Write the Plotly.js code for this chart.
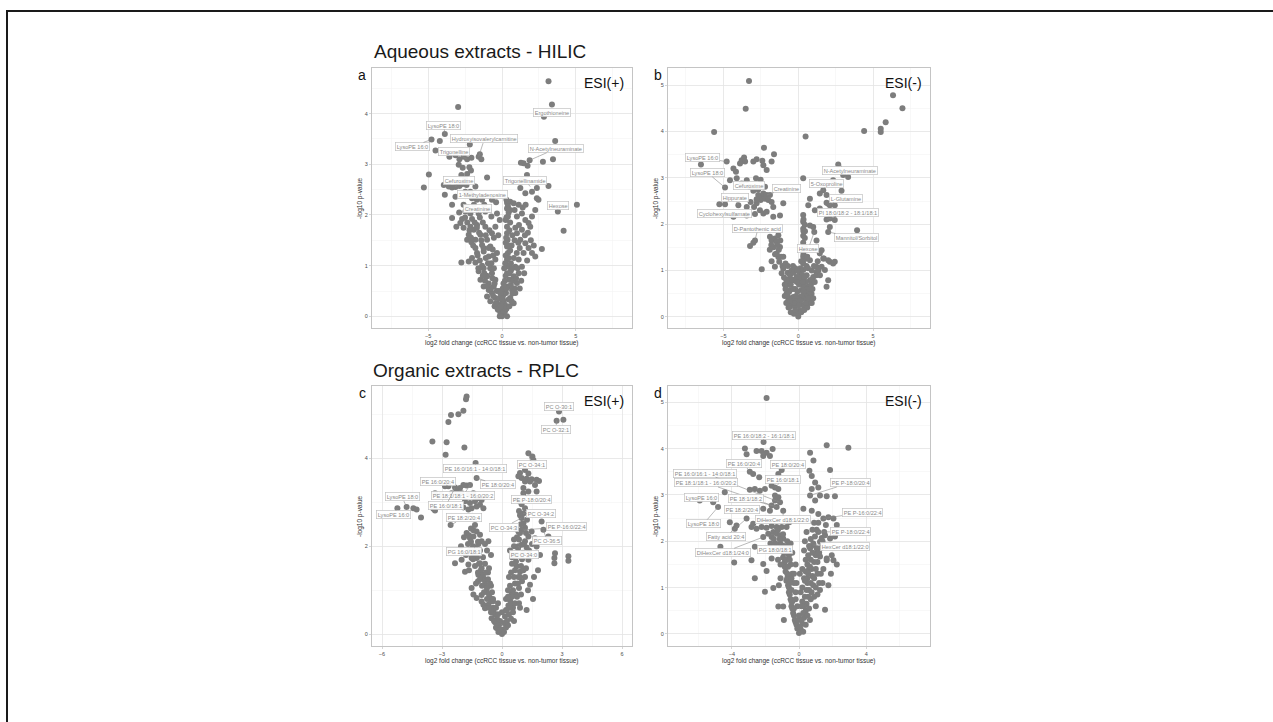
<!DOCTYPE html>
<html>
<head>
<meta charset="utf-8">
<script src="https://cdn.plot.ly/plotly-3.0.1.min.js"></script>
<style>
html,body{margin:0;padding:0;background:#fff;}
#chart{width:1273px;height:722px;}
</style>
</head>
<body>
<div id="chart"></div>
<script>
// ---------- DATA (log2 fold change, -log10 p-value) ----------
const pointsA = [
[3.15,4.64],[3.38,4.18],[2.84,3.94],[-2.97,4.13],[3.6,3.46],[3.45,3.1],[2.77,3.05],[-3.87,3.6],[-4.77,3.49],[-4.21,3.46],
[-4.5,3.27],[-2.18,3.39],[-4.95,2.8],[-5.29,2.54],[-3.87,2.4],[-3.38,2.2],[-3.38,1.94],[-3.09,1.77],[-1.01,2.74],[5.07,2.2],
[3.78,2.07],[4.17,1.69],[2.7,1.33],[3.15,2.57],[2.36,2.33],
[-3.56,3.15],[-3.15,3.18],[-2.88,3.1],[-2.59,3.15],[-2.36,3.1],[-2.07,3.13],[-1.58,3.15],[-1.4,3.1],[-1.5,3.2],[-2.93,2.99],
[-2.66,2.93],[-2.21,2.94],[-2.1,2.88],[-2.75,2.79],[-2.36,2.81],[-2.5,2.72],
[-3.94,2.59],[-3.6,2.56],[-3.38,2.54],[-3.15,2.55],[-2.88,2.57],[-2.66,2.61],[-2.4,2.59],[-2.48,2.46],[-1.8,2.56],[-2.14,2.46],
[-3.15,2.36],[-2.03,2.33],[-1.35,2.3],[-0.68,2.3],[0.34,2.24],[0.55,2.26],[0.4,2.17],
[-2.48,2.07],[-2.14,2.03],[-1.58,2.03],[-1.13,2.07],[-2.03,1.92],[-2.7,1.92],[-2.82,1.84],
[-2.14,1.77],[-1.91,1.71],[-1.69,1.8],[-2.25,1.61],[-2.36,1.51],[-2.07,1.46],[-1.8,1.51],[-1.46,1.61],[-1.35,1.41],[-1.24,1.28],
[-1.69,1.25],[-2.03,1.15],[-1.8,1.06],[-2.75,1.06],[-2.25,1.08],[-1.58,0.89],[-0.9,1.18],[-0.79,1.38],[-1.01,1.51],[-0.68,1.64],
[-0.45,1.77],[-1.13,1.77],[-0.72,1.97],[-0.34,2.03],[-1.24,0.95],[-1.01,0.79],[-0.68,0.85],[-1.46,0.72],[-1.24,0.59],[-0.9,0.52],
[-0.68,0.46],[-1.01,0.39],[-0.45,0.36],[-0.79,0.3],[-0.5,0.2],[-0.27,0.13],[-0.11,0.07],[-0.34,0.26],[-0.56,0.59],[-0.45,0.72],
[-0.72,1.05],[-0.45,1.12],[-0.34,1.25],[-0.63,1.32],[-1.5,1.95],[-1.9,2.2],
[0.34,2.13],[0.4,1.97],[0.34,1.77],[0.34,1.64],[0.38,1.51],[0.34,1.38],[0.4,1.25],[0.34,1.12],[0.45,0.98],[0.34,0.85],
[0.5,0.72],[0.4,0.59],[0.27,0.46],[0.45,0.33],[0.18,0.2],[0.11,0.07],[0.25,1.9],[0.25,1.45],[0.22,1.05],[0.2,0.7],
[0.55,1.85],[0.55,1.3],[0.6,0.9],[0.1,0.3],[0.15,0.5],
[0.79,2.23],[1.13,2.2],[1.35,2.03],[1.01,1.97],[1.58,1.9],[1.8,1.84],[2.03,1.97],[2.25,2.1],[1.91,1.77],[1.35,1.71],
[1.01,1.64],[1.24,1.51],[1.58,1.44],[1.8,1.35],[2.03,1.25],[2.25,1.18],[1.46,1.25],[1.13,1.12],[0.9,0.98],[1.35,0.98],
[1.13,0.85],[0.79,0.79],[1.01,0.66],[0.68,0.52],[0.9,0.46],[0.56,0.36],[0.79,0.26],[1.58,2.43],[1.24,2.53],[1.35,2.69],
[1.69,2.79],[1.73,2.97],[1.46,3.02],[1.87,3.08],[1.28,3.03],[2.03,2.46],[2.36,2.53],[2.47,2.3],
[0,0],[-0.05,0.07],[0.05,0.13],[-0.2,0.16],[0.2,0.23],[0,0.26],[-0.11,0.36],[0.11,0.43],[-0.2,0.5],[0.05,0.55],
[-0.3,0.15],[-0.45,0.25],[-0.6,0.4],[-0.75,0.55],[-0.9,0.65],[-1.05,0.8],[-1.2,0.85],[-1.35,1.0],[-1.5,1.1],[-1.65,1.2],
[-1.8,1.35],[-1.95,1.4],[-2.1,1.55],[-2.2,1.7],[-2.35,1.85],[-2.6,1.75],[-2.5,1.95],[-0.2,0.35],[-0.35,0.5],[-0.5,0.65],
[-0.65,0.75],[-0.8,0.95],[-0.95,1.05],[-1.1,1.15],[-1.25,1.35],[-1.4,1.5],[-1.55,1.65],[-1.7,1.75],[-1.85,1.85],[-1.0,0.6],
[-1.15,0.7],[-1.3,0.8],[-0.55,0.95],[-0.6,1.2],[-0.9,1.35],[-1.1,1.6],[-0.85,1.7],[-1.3,1.85],[-0.55,1.55],[-0.25,1.6],
[-0.15,1.9],[-0.9,2.1],[-1.2,2.2],[-2.6,2.2],[-2.3,2.15],[-1.7,2.3],[-0.4,2.25],[-2.9,2.05],[-1.6,0.95],[-0.05,0.2],
[0.2,0.1],[0.3,0.15],[0.5,0.2],[0.65,0.3],[0.7,0.45],[0.85,0.55],[0.6,0.62],[0.75,0.7],[0.95,0.75],[0.5,0.85],
[0.7,0.95],[1.05,0.95],[0.6,1.05],[0.8,1.15],[1.0,1.25],[1.2,1.35],[0.65,1.4],[0.85,1.5],[1.1,1.45],[0.7,1.6],
[0.9,1.75],[1.15,1.8],[0.45,1.4],[0.5,1.7],[0.45,2.05],[0.3,2.3],[0.55,2.1],[0.85,2.1],[1.4,2.15],[1.6,2.2],
[1.75,1.65],[1.55,1.6],[1.95,1.5],[2.15,1.4],[1.7,1.1],[1.5,0.85],[1.3,0.7],[1.2,0.55],[0.35,0.0],[-0.15,0.0],
[0.3,0.55],[0.25,0.8],[0.25,1.2],[0.28,1.55],[0.3,1.95],[0.45,1.15],[0.15,0.95],[0.1,0.65],[-0.1,0.45],[0.05,0.35]
];
const pointsB = [
[-3.29,5.09],[-3.51,4.49],[-5.62,3.99],[0.49,3.89],[6.33,4.78],[6.96,4.5],[5.84,4.2],[5.51,4.06],[5.51,3.99],[4.4,4.01],
[-4.78,3.35],[-4.16,3.13],[-4.33,3.2],[-3.78,3.38],[-3.62,3.44],[-3.55,3.35],[-3.89,3.31],[-3.0,3.35],[-2.78,3.4],[-2.29,3.65],
[-2.4,3.37],[-2.33,3.27],[-2.11,3.17],[-1.78,3.35],[-1.62,3.51],[-6.5,3.29],[-4.89,2.79],[-4.56,2.95],[-4.11,2.99],[-3.78,2.88],
[-3.44,2.95],[-3.22,2.81],[-3.0,2.72],[-2.67,2.75],[-2.82,2.99],[-2.51,2.96],[-2.22,2.81],[-5.27,2.43],[-4.89,2.43],[-4.0,2.41],
[-3.44,2.37],[-3.18,2.48],[-2.95,2.37],[-2.78,2.45],[-2.67,2.63],[-2.45,2.6],[-2.33,2.66],[-2.11,2.63],[-2.51,2.52],[-2.22,2.55],
[-1.89,2.63],[-2.0,2.52],[-2.78,2.54],[-4.33,2.16],[-3.44,2.19],[-2.89,2.22],[-2.56,2.3],[-2.33,2.23],[-2.11,2.27],[-1.67,2.37],
[-1.78,2.48],[-1.67,2.16],[-1.22,2.19],[-1.0,2.45],[-2.89,1.65],[-3.0,1.6],[-3.22,1.53],[-1.89,1.73],[-1.78,1.65],[-1.56,1.69],
[-1.33,1.76],[-1.44,1.62],[-2.44,1.03],[-1.78,1.2],[-1.33,1.29],[-1.27,1.19],[-1.56,1.08],[-1.0,1.04],[-1.11,0.94],[-1.44,1.37],
[-1.22,1.51],
[-0.33,0.79],[-0.11,0.86],[0.11,0.94],[0.33,1.01],[0.56,0.9],[-0.56,0.58],[-0.78,0.5],[-0.67,0.36],[-0.44,0.29],[-0.22,0.22],
[-0.11,0.11],[0,0.01],[0.11,0.14],[0.33,0.25],[0.56,0.36],[0.44,0.5],[0.22,0.58],[0.67,0.65],[0.78,0.79],[0.89,0.5],
[-0.33,0.43],[-0.11,0.36],[0.11,0.43],[0.33,0.4],[-0.56,0.22],[-0.29,0.07],[-0.9,0.7],[-0.8,0.8],[-0.7,0.95],[0.2,0.7],
[0.4,0.65],[-0.2,0.6],[0.6,0.2],[0.75,0.3],[1.0,0.4],
[0.33,2.2],[0.33,2.05],[0.33,1.9],[0.33,1.75],[0.33,1.6],[0.3,1.45],[0.33,1.3],[0.33,1.15],[0.44,1.99],[0.44,1.7],
[0.78,1.22],[0.78,1.97],
[0.33,2.99],[0.78,2.55],[0.67,2.41],[1.11,2.3],[1.44,2.66],[1.67,2.73],[1.89,2.63],[2.11,2.41],[2.11,1.94],[2.44,2.41],
[1.44,2.34],[1.0,1.94],[1.07,1.83],[1.22,1.65],[1.44,1.37],[1.67,1.26],[2.0,1.22],[2.44,1.19],[1.22,1.08],[1.0,0.86],
[0.9,0.8],[1.22,0.97],
[2.67,3.29],[3.33,3.02],[3.0,3.06],[2.33,2.95],[2.89,2.72],[1.89,2.46],[2.0,2.44],[1.89,2.1],[2.11,2.12],[2.44,2.09],
[3.93,1.87],[2.0,1.83],[1.56,1.44],[1.71,1.26],[2.11,1.19],[2.33,1.15],[1.56,1.08],[1.78,1.01],[2.0,0.79],[1.89,0.65],
[-0.9,0.45],[-0.85,0.6],[-0.75,0.7],[-0.65,0.8],[-0.55,0.9],[-0.45,1.0],[-0.35,1.1],[-0.7,0.45],[-0.6,0.55],[-0.5,0.7],
[-0.4,0.8],[-0.3,0.95],[-0.2,1.05],[-0.8,0.3],[-0.65,0.2],[-0.5,0.1],[-0.4,0.4],[-0.25,0.3],[-0.15,0.45],[-0.05,0.55],
[0.05,0.7],[0.15,0.8],[0.25,0.9],[0.4,0.85],[0.5,0.75],[0.6,0.6],[0.7,0.5],[0.8,0.4],[0.9,0.3],[0.5,0.45],
[0.35,0.55],[0.25,0.45],[0.15,0.35],[0.05,0.25],[0.2,0.1],[0.4,0.15],[0.5,0.3],[0.65,0.4],[0.75,0.6],[0.85,0.7],
[0.95,0.6],[0.3,0.75],[0.0,0.85],[-0.1,0.75],[-0.2,0.15],[-0.35,0.6],[-0.55,0.35],[-0.95,0.85],[-1.05,1.1],[-1.15,1.3],
[-1.3,1.45],[-1.4,1.55],[-1.55,1.35],[-1.65,1.5],[-1.8,1.55],[-1.9,1.45],[-1.2,1.65],[-1.0,1.3],[-0.85,1.15],[-0.7,1.1],
[0.35,1.35],[0.35,1.5],[0.35,1.85],[0.35,2.1],[0.45,1.25],[0.45,1.5],[0.45,1.85],[0.55,1.1],[0.6,1.3],[0.65,1.05],
[1.1,0.75],[1.2,0.9],[1.35,1.0],[1.45,0.9],[1.3,1.2],[0.9,1.0],[1.05,1.1],[0.15,1.05],[0.2,1.2],[-0.05,1.0]
];
const pointsC = [
[-1.77,5.4],[-1.8,5.34],[-1.93,5.08],[-2.18,5.0],[-2.55,4.98],[-2.68,4.82],[-3.48,4.38],[-2.77,4.36],[-1.88,4.24],[-2.82,4.08],
[2.85,5.06],[2.73,4.85],[3.07,4.87],[1.32,4.11],[1.52,4.04],[1.57,3.96],[1.15,3.73],[1.32,3.65],[0.9,3.66],[0.98,3.55],
[0.82,3.59],[1.23,3.53],[1.48,3.52],[1.15,3.47],[1.4,3.47],[1.73,3.51],[1.85,3.48],[1.65,3.39],[1.32,3.24],[1.07,3.32],[1.73,3.24],
[-1.32,3.89],[-1.27,3.55],[-1.93,3.39],[-1.77,3.38],[-1.6,3.39],[-2.1,3.32],[-2.35,3.33],[-2.68,3.36],[-2.85,3.36],[-3.35,3.2],
[-3.05,3.17],[-2.52,3.2],[-2.27,3.24],[-2.02,3.2],[-1.68,3.17],[-1.43,3.2],[-1.18,3.09],[-1.02,3.05],[-1.35,3.02],[-1.6,2.98],
[-1.85,3.02],[-1.52,2.86],[-1.27,2.9],[-1.1,2.94],[-0.93,2.86],[-1.68,2.83],[-1.93,2.88],
[-5.23,2.86],[-4.77,2.89],[-4.43,2.86],[-4.27,2.83],[-4.05,2.65],[-3.43,2.85],[-3.35,2.81],
[-2.57,2.48],[-1.35,2.48],[-1.43,2.36],[-1.77,2.3],[-1.6,2.18],[-1.43,2.22],[-1.27,2.33],[-1.1,2.26],[-1.02,2.11],[-1.18,2.05],
[-1.35,1.97],[-0.85,2.05],[-0.68,2.11],
[1.07,3.2],[0.9,3.02],[0.98,2.95],[1.15,2.86],[1.07,2.74],[0.9,2.7],[0.98,2.64],[1.07,2.52],[1.15,2.42],[0.98,2.37],
[0.82,2.33],[1.32,2.22],[1.15,2.11],[0.98,2.03],[0.82,2.0],[1.23,1.97],[1.48,2.33],[1.65,2.18],[1.73,1.99],[1.98,2.56],
[2.07,2.37],[2.32,2.22],
[2.65,1.84],[2.62,1.73],[2.62,1.61],[3.32,1.77],[3.32,1.67],
[-2.35,1.61],[-1.85,1.42],[-2.02,1.69],[-1.68,1.58],[-1.52,1.73],[-1.43,1.84],[-1.27,1.73],[-1.1,1.61],[-1.02,1.5],[-1.18,1.35],
[-0.93,1.27],[-0.85,1.12],[-0.77,0.97],[-0.6,0.82],[-0.68,0.67],[-0.43,0.52],[-0.52,0.36],[-0.35,0.27],[-0.27,0.14],[-0.18,0.05],
[-1.52,1.05],[-1.43,0.9],[-1.02,0.89],[-1.27,0.82],[-0.93,0.67],[-1.02,0.74],[-0.85,0.59],[-1.2,1.2],[-0.7,1.4],[-0.55,1.1],[-0.45,0.8],
[0.73,1.54],[0.9,1.42],[1.07,1.45],[1.32,1.69],[1.4,1.12],[1.23,0.55],[0.82,1.3],[0.65,1.15],[0.48,0.92],[0.4,0.77],
[0.32,0.65],[0.23,0.53],[0.15,0.4],[0.1,0.25],[0.05,0.1],[0.6,1.8],[0.5,1.6],[0.35,1.3],[0.3,1.0],[0.7,0.9],
[0.55,0.6],[0.85,1.05],[1.0,1.2],[0.4,1.9],[0.6,2.0],[0.75,2.2],[0.9,0.6],[0.2,0.8],[0.0,0.0],[-0.1,0.3],[0.0,0.5],[-0.2,0.7],
[-0.15,0.2],[-0.25,0.35],[-0.35,0.45],[-0.45,0.6],[-0.55,0.75],[-0.65,0.9],[-0.75,1.05],[-0.85,1.2],[-0.95,1.35],[-1.05,1.45],
[-1.15,1.6],[-1.25,1.75],[-1.35,1.85],[-1.45,2.0],[-1.55,2.1],[-1.65,2.25],[-1.55,2.4],[-0.3,0.15],[-0.4,0.3],[-0.55,0.5],
[-0.65,0.6],[-0.75,0.8],[-0.9,0.95],[-1.0,1.1],[-1.1,1.25],[-1.2,1.4],[-1.35,1.55],[-1.45,1.7],[-1.6,1.9],[-1.7,2.05],
[-0.2,0.45],[-0.3,0.6],[-0.45,0.75],[-0.5,0.95],[-0.6,1.15],[-0.7,1.25],[-0.8,1.4],[-0.85,1.6],[-0.95,1.75],[-1.1,1.9],
[-1.2,2.1],[-1.9,2.2],[-2.05,2.0],[-1.8,1.8],[-1.65,1.45],[-0.1,0.1],[-1.3,1.15],[-0.65,1.5],[-0.75,1.9],[-0.55,1.8],
[0.1,0.05],[0.2,0.15],[0.25,0.3],[0.35,0.45],[0.4,0.6],[0.45,0.7],[0.5,0.85],[0.55,1.0],[0.6,1.3],[0.65,1.45],
[0.7,1.65],[0.75,1.8],[0.8,1.95],[0.85,2.15],[0.9,2.3],[0.95,2.5],[0.3,0.2],[0.45,0.35],[0.55,0.5],[0.65,0.7],
[0.75,0.85],[0.8,1.15],[0.9,1.3],[0.95,1.55],[1.0,1.7],[1.05,1.85],[1.1,2.05],[1.2,2.3],[1.25,2.6],[0.2,0.55],
[0.3,0.85],[0.4,1.1],[0.45,1.4],[0.5,1.75],[0.6,2.15],[0.7,2.4],[0.85,2.8],[0.75,3.05],[1.35,1.9],[1.5,2.05],
[1.2,1.5],[1.15,1.3],[1.3,1.0],[0.95,0.9],[0.85,0.7],[0.6,0.3],[1.55,0.8],[1.6,1.3],[1.8,1.45],[1.9,1.8]
];
const pointsD = [
[-1.93,5.09],[-2.11,4.14],
[-3.22,4.0],[-3.12,3.88],[-2.53,3.95],[-2.23,3.95],[-1.93,3.91],[-1.57,3.99],[-2.13,3.84],[-1.73,3.84],[-2.93,3.5],[-2.73,3.45],
[-2.37,3.38],[-1.03,3.54],[-1.23,3.45],
[-4.42,3.06],[-2.93,3.11],[-2.63,3.13],[-2.33,3.09],[-2.03,3.13],[-1.63,3.2],[-1.43,3.16],[-1.23,3.13],[-1.43,2.99],[-1.23,2.95],
[-1.13,2.84],[-1.43,2.88],[-1.63,2.77],[-1.33,2.74],[-0.94,2.66],[-1.73,2.66],[-2.13,2.7],
[-5.91,2.88],[-5.11,2.84],[-4.82,2.74],[-3.12,2.49],[-4.12,2.41],[-3.82,2.27],[-3.72,2.34],[-2.83,2.31],[-2.73,2.38],[-2.53,2.27],
[-2.23,2.31],[-1.93,2.29],[-1.63,2.33],[-1.33,2.31],[-1.03,2.31],[-0.74,2.31],[-0.58,2.41],
[-4.68,1.88],[-3.86,1.54],[-2.83,1.59],[-2.63,1.88],[-2.13,2.09],[-1.83,2.16],[-1.63,2.09],[-1.53,2.2],[-1.33,2.16],[-1.13,2.13],
[-0.94,2.06],[-1.03,1.91],[-1.33,1.81],[-1.63,1.63],
[1.65,4.07],[2.94,4.02],[0.66,3.91],[0.86,3.74],[1.85,3.54],[0.62,3.52],[0.76,3.41],[0.96,3.27],[1.15,3.16],[0.76,3.13],
[0.66,2.99],[0.96,2.88],[1.25,2.99],[1.65,2.97],[2.14,2.97],[0.26,2.7],[0.76,2.66],[1.15,2.59],[1.45,2.49],[1.75,2.52],
[2.05,2.49],[2.25,2.35],[1.15,2.2],[1.35,2.07],[1.55,2.13],[1.85,2.06],[2.14,2.1],[1.25,1.99],[0.86,1.92],[0.66,1.85],
[0.96,1.74],[1.25,1.67],[1.65,1.63],[1.95,1.7],[2.25,1.5],
[-2.63,1.2],[-2.03,0.91],[-1.53,0.99],[-1.93,1.36],[-2.13,1.51],[-1.23,0.59],[-0.94,0.59],[1.55,0.52],[1.65,1.59],[1.45,1.4],[2.05,1.59],
[-1.0,1.9],[-0.9,1.75],[-0.8,1.6],[-0.85,1.45],[-0.7,1.3],[-0.75,1.15],[-0.6,1.0],[-0.55,0.85],[-0.45,0.7],[-0.4,0.55],
[-0.3,0.4],[-0.2,0.25],[-0.1,0.12],[0,0.02],[0.1,0.1],[0.2,0.22],[0.3,0.35],[0.4,0.5],[0.45,0.65],[0.55,0.8],
[0.6,0.95],[0.7,1.1],[0.8,1.25],[0.75,1.4],[0.9,1.55],[1.0,1.7],[1.05,1.85],[0.3,1.8],[0.4,1.6],[0.2,1.4],
[0.3,1.2],[0.1,0.9],[0.2,0.7],[-0.2,0.9],[-0.3,1.1],[-0.4,1.3],[-0.5,1.5],[-0.6,1.7],[-0.65,1.9],[0.0,0.4],
[-0.1,0.6],[0.5,1.2],[0.6,1.4],[1.1,1.3],[1.2,1.1],[-1.1,1.2],[-1.2,1.05],[0.9,0.8],[1.0,0.6],[-0.9,0.3],[0.65,0.3],
[-0.15,0.2],[-0.25,0.3],[-0.35,0.45],[-0.45,0.6],[-0.5,0.75],[-0.6,0.9],[-0.65,1.05],[-0.7,1.2],[-0.8,1.35],[-0.85,1.55],
[-0.95,1.65],[-1.0,1.8],[-1.1,1.95],[-1.15,2.05],[-1.25,2.25],[-0.3,0.55],[-0.4,0.7],[-0.45,0.95],[-0.55,1.1],[-0.6,1.25],
[-0.65,1.45],[-0.75,1.6],[-0.8,1.75],[-0.9,1.9],[-0.95,2.15],[-0.45,1.2],[-0.55,1.6],[-0.7,2.0],[-0.5,1.95],[-0.4,1.75],
[-0.2,1.5],[-0.3,1.3],[-0.15,1.1],[-0.2,0.75],[-0.05,0.3],[-1.4,1.95],[-1.5,2.05],[-1.7,1.95],[-1.25,1.6],[-1.1,1.5],
[0.05,0.15],[0.15,0.3],[0.25,0.45],[0.3,0.6],[0.35,0.8],[0.45,0.95],[0.5,1.1],[0.55,1.3],[0.65,1.45],[0.7,1.6],
[0.8,1.75],[0.85,1.95],[0.95,2.1],[1.05,2.25],[1.15,2.4],[0.25,0.05],[0.4,0.2],[0.5,0.4],[0.6,0.55],[0.7,0.75],
[0.75,0.9],[0.85,1.05],[0.9,1.2],[1.0,1.4],[1.1,1.55],[1.2,1.75],[1.3,1.85],[1.4,2.0],[1.5,2.2],[1.6,2.35],
[0.15,0.6],[0.2,1.0],[0.35,1.15],[0.4,1.35],[0.5,1.5],[0.55,1.7],[0.6,1.9],[0.7,2.05],[0.8,2.25],[0.9,2.4],
[0.45,2.2],[0.35,2.0],[1.3,1.3],[1.4,1.1],[1.25,0.95],[1.1,0.85],[1.0,1.0],[1.75,1.05],[1.9,1.3],[0.05,1.3]
];

// labels: [text, pointX, pointY, labelX, labelY]
const labelsA = [
["Ergothioneine",2.84,3.94,3.4,4.02],
["LysoPE 18:0",-3.87,3.6,-3.94,3.77],
["LysoPE 16:0",-4.77,3.49,-6.08,3.35],
["Hydroxyisovalerylcarnitine",-1.58,3.15,-1.19,3.5],
["Trigonelline",-2.36,3.1,-3.27,3.25],
["N-Acetylneuraminate",1.87,3.08,3.67,3.31],
["Cefuroxime",-3.15,2.55,-2.93,2.68],
["Trigonellinamide",1.91,2.56,1.58,2.68],
["1-Methyladenosine",-0.68,2.3,-1.35,2.4],
["Creatinine",-1.58,2.03,-1.64,2.13],
["Hexose",3.78,2.07,3.78,2.19]
];
const labelsB = [
["LysoPE 16:0",-4.78,3.35,-6.38,3.43],
["LysoPE 18:0",-4.89,2.79,-6.07,3.11],
["Cefuroxime",-3.44,2.95,-3.27,2.84],
["Creatinine",-2.11,2.63,-0.8,2.77],
["Hippurate",-4.0,2.41,-4.24,2.57],
["Cyclohexylsulfamate",-4.33,2.16,-4.93,2.24],
["D-Pantothenic acid",-2.89,1.65,-2.69,1.91],
["Hexose",1.07,1.83,0.67,1.47],
["N-Acetylneuraminate",2.67,3.29,3.47,3.16],
["5-Oxoproline",1.67,2.73,1.87,2.88],
["L-Glutamine",2.11,2.43,3.2,2.55],
["PI 18:0/18:2 - 18:1/18:1",1.89,2.1,3.33,2.26],
["Mannitol/Sorbitol",2.0,1.83,3.87,1.71]
];
const labelsC = [
["PC O-30:1",2.85,5.06,2.85,5.18],
["PC O-32:1",2.73,4.85,2.7,4.66],
["PC O-34:1",1.32,4.11,1.48,3.85],
["PE 16:0/16:1 - 14:0/18:1",-1.32,3.89,-1.35,3.76],
["PE 16:0/20:4",-2.68,3.36,-3.2,3.48],
["PE 18:0/20:4",-1.27,3.55,-0.22,3.39],
["LysoPE 18:0",-4.77,2.89,-5.0,3.12],
["PE 18:1/18:1 - 16:0/20:2",-1.6,3.39,-1.95,3.14],
["PE 16:0/18:1",-2.35,3.33,-2.8,2.92],
["LysoPE 16:0",-5.23,2.86,-5.45,2.71],
["PE P-18:0/20:4",1.07,3.2,1.45,3.05],
["PC O-34:2",1.07,2.74,1.97,2.74],
["PE 18:2/20:4",-2.57,2.48,-1.9,2.64],
["PC O-34:3",0.98,2.64,0.1,2.43],
["PE P-16:0/22:4",1.07,2.37,3.2,2.44],
["PC O-36:5",2.07,2.37,2.25,2.12],
["PG 16:0/18:1",-1.35,1.97,-1.9,1.87],
["PC O-34:0",0.82,2.0,1.08,1.82]
];
const labelsD = [
["PE 16:0/18:2 - 16:1/18:1",-2.11,4.14,-2.1,4.29],
["PE 16:0/20:4",-2.93,3.5,-3.28,3.67],
["PE 18:0/20:4",-1.03,3.54,-0.65,3.65],
["PE 16:0/16:1 - 14:0/18:1",-1.13,2.84,-5.6,3.47],
["PE 18:1/18:1 - 16:0/20:2",-1.33,2.74,-5.55,3.26],
["PE 16:0/18:1",-1.43,3.16,-0.95,3.33],
["LysoPE 16:0",-5.11,2.84,-5.8,2.94],
["PE 18:1/18:2",-1.63,2.77,-3.16,2.93],
["PE 18:2/20:4",-2.13,2.7,-3.4,2.69],
["DiHexCer d18:1/22:0",-0.94,2.66,-0.95,2.47],
["LysoPE 18:0",-4.82,2.74,-5.67,2.38],
["Fatty acid 20:4",-3.12,2.49,-4.36,2.1],
["DiHexCer d18:1/24:0",-2.13,2.09,-4.5,1.76],
["PG 18:0/18:1",-1.33,1.81,-1.43,1.83],
["PE P-18:0/20:4",0.66,2.99,3.04,3.26],
["PE P-16:0/22:4",1.45,2.49,3.76,2.62],
["PE P-18:0/22:4",1.15,2.2,3.04,2.21],
["HexCer d18:1/22:0",0.86,1.92,2.75,1.89]
];

const sectionTitles = ["Aqueous extracts - HILIC","Organic extracts - RPLC"];
const panelLetters = ["a","b","c","d"];
const modeLabels = ["ESI(+)","ESI(-)","ESI(+)","ESI(-)"];
const xTitle = "log2 fold change (ccRCC tissue vs. non-tumor tissue)";
const yTitle = "-log10 p-value";

// ---------- LAYOUT ----------
const W = 1273, H = 722;
const fx = v => v / W, fy = v => 1 - v / H;
const FONT = "Liberation Sans, Arial, Helvetica, sans-serif";

const panels = [
  {pts:pointsA, lab:labelsA, xs:"x", ys:"y", xd:[372,632], yd:[68,328], xr:[-8.8,8.8], xdt:5, yr:[-0.23,4.9], ydt:1},
  {pts:pointsB, lab:labelsB, xs:"x2", ys:"y2", xd:[668,930], yd:[68,328], xr:[-8.7,8.8], xdt:5, yr:[-0.24,5.37], ydt:1},
  {pts:pointsC, lab:labelsC, xs:"x3", ys:"y3", xd:[372,632], yd:[386,646], xr:[-6.5,6.5], xdt:3, yr:[-0.27,5.64], ydt:2},
  {pts:pointsD, lab:labelsD, xs:"x4", ys:"y4", xd:[668,930], yd:[386,646], xr:[-7.8,7.8], xdt:4, yr:[-0.26,5.35], ydt:1}
];

const traces = [];
const annotations = [];
const layout = {
  width: W, height: H, margin:{l:0,r:0,t:0,b:0},
  paper_bgcolor:"#ffffff", plot_bgcolor:"#ffffff",
  showlegend:false, font:{family:FONT, color:"#333"},
  annotations: annotations,
  shapes: [
    {type:"line", xref:"paper", yref:"paper", x0:fx(6), x1:fx(1273), y0:fy(11), y1:fy(11), line:{color:"#1a1a1a", width:2}},
    {type:"line", xref:"paper", yref:"paper", x0:fx(7), x1:fx(7), y0:fy(10), y1:fy(722), line:{color:"#1a1a1a", width:2}}
  ]
};

function axisBase(range, dtick, domain, anchor) {
  return {
    domain: domain, anchor: anchor, range: range, autorange:false,
    tick0: 0, dtick: dtick, zeroline:false,
    showgrid:true, gridcolor:"#e4e4e4", gridwidth:0.8,
    minor:{dtick: dtick/2, showgrid:true, gridcolor:"#f3f3f3", gridwidth:0.6},
    showline:true, mirror:true, linecolor:"#c4c4c4", linewidth:1,
    ticks:"outside", ticklen:2, tickwidth:0.6, tickcolor:"#bbbbbb",
    tickfont:{size:5.5, color:"#4d4d4d", family:FONT}
  };
}

panels.forEach((p, i) => {
  const n = i === 0 ? "" : String(i+1);
  const xdom = [fx(p.xd[0]), fx(p.xd[1])];
  const ydom = [fy(p.yd[1]), fy(p.yd[0])];
  layout["xaxis"+n] = axisBase(p.xr, p.xdt, xdom, p.ys);
  layout["yaxis"+n] = axisBase(p.yr, p.ydt, ydom, p.xs);
  traces.push({
    type:"scatter", mode:"markers", xaxis:p.xs, yaxis:p.ys,
    x: p.pts.map(d => d[0]), y: p.pts.map(d => d[1]),
    marker:{size:6, color:"#7d7d7d"}, hoverinfo:"x+y", cliponaxis:false
  });
  p.lab.forEach(l => {
    annotations.push({
      xref:p.xs, yref:p.ys, axref:p.xs, ayref:p.ys,
      x:l[1], y:l[2], ax:l[3], ay:l[4], text:l[0],
      showarrow:true, arrowhead:0, arrowwidth:0.6, arrowcolor:"#8a8a8a", standoff:0,
      bgcolor:"rgba(255,255,255,0.95)", bordercolor:"#c2c2c2", borderwidth:0.7, borderpad:1,
      font:{size:5.6, color:"#8a8a8a", family:FONT}
    });
  });
  annotations.push({xref:"paper", yref:"paper", x:fx((p.xd[0]+p.xd[1])/2), y:fy(p.yd[1]+15),
    text:xTitle, showarrow:false, xanchor:"center", yanchor:"middle", font:{size:6.5, color:"#333", family:FONT}});
  annotations.push({xref:"paper", yref:"paper", x:fx(p.xd[0]-12), y:fy((p.yd[0]+p.yd[1])/2),
    text:yTitle, textangle:-90, showarrow:false, xanchor:"center", yanchor:"middle", font:{size:6.5, color:"#333", family:FONT}});
  annotations.push({xref:"paper", yref:"paper", x:fx(p.xd[0]-10), y:fy(p.yd[0]+7),
    text:panelLetters[i], showarrow:false, xanchor:"center", yanchor:"middle", font:{size:14, color:"#111", family:FONT}});
  annotations.push({xref:"paper", yref:"paper", x:fx(p.xd[1]-6), y:fy(p.yd[0]+15),
    text:modeLabels[i], showarrow:false, xanchor:"right", yanchor:"middle", font:{size:14, color:"#111", family:FONT}});
});

annotations.push({xref:"paper", yref:"paper", x:fx(372), y:fy(52), text:sectionTitles[0], showarrow:false,
  xanchor:"left", yanchor:"middle", font:{size:19, color:"#1a1a1a", family:FONT}});
annotations.push({xref:"paper", yref:"paper", x:fx(371), y:fy(370), text:sectionTitles[1], showarrow:false,
  xanchor:"left", yanchor:"middle", font:{size:19, color:"#1a1a1a", family:FONT}});

Plotly.newPlot("chart", traces, layout, {staticPlot:true, displayModeBar:false});
</script>
</body>
</html>
